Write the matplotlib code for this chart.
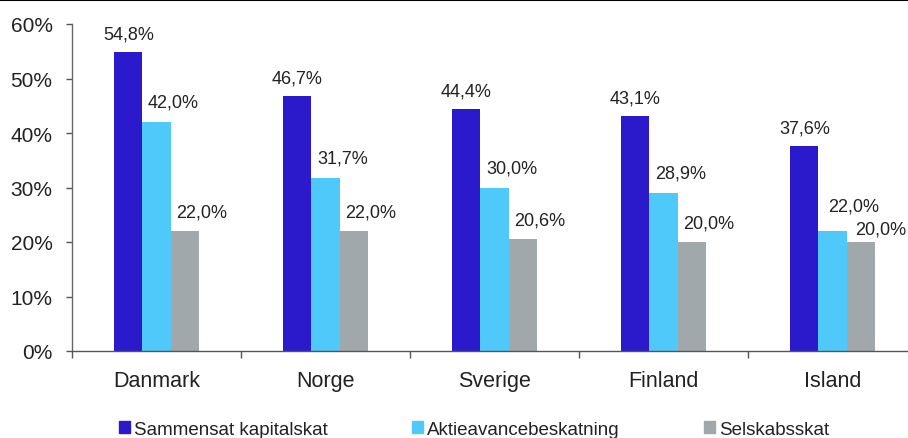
import matplotlib
matplotlib.use("Agg")
import matplotlib.pyplot as plt
import numpy as np
from matplotlib.lines import Line2D
from matplotlib.patches import Rectangle

plt.rcParams["font.family"] = ["Liberation Sans", "DejaVu Sans"]

countries = ["Danmark", "Norge", "Sverige", "Finland", "Island"]
series_names = ["Sammensat kapitalskat", "Aktieavancebeskatning", "Selskabsskat"]
kapitalskat = [54.8, 46.7, 44.4, 43.1, 37.6]
aktieavance = [42.0, 31.7, 30.0, 28.9, 22.0]
selskabsskat = [22.0, 22.0, 20.6, 20.0, 20.0]
y_ticks = [0, 10, 20, 30, 40, 50, 60]

colors = ["#2b1acb", "#4fc9fa", "#a1a8ab"]
text_color = "#222222"

# label offsets in pixels (dx, dy) per series; Island gets nudged to avoid overlap
label_offsets = [(0, 18), (17, 20), (17, 19)]
label_overrides = {(4, 1): (21, 25), (4, 2): (20, 13)}

fig = plt.figure(figsize=(9.08, 4.39), dpi=100)
W, H = 908, 439
ax = fig.add_axes([72 / W, (H - 352) / H, 845 / W, 327 / H])

x = np.arange(len(countries))
width = 28 / 168.5
all_series = [kapitalskat, aktieavance, selskabsskat]

for i, (vals, color) in enumerate(zip(all_series, colors)):
    pos = x + (i - 1) * width
    ax.bar(pos, vals, width=width, color=color, linewidth=0)
    for j, (px, v) in enumerate(zip(pos, vals)):
        dx, dy = label_overrides.get((j, i), label_offsets[i])
        ax.annotate(f"{v:.1f}%".replace(".", ","), (px, v),
                    xytext=(dx, dy), textcoords="offset pixels",
                    ha="center", va="center", fontsize=13, color=text_color)

ax.set_xlim(-0.5, len(countries) - 0.5)
ax.set_ylim(0, 60)
ax.set_yticks(y_ticks)
ax.set_yticklabels([f"{t}%" for t in y_ticks])
ax.set_xticks(x)
ax.set_xticklabels(countries)
ax.set_xticks(np.arange(len(countries) + 1) - 0.5, minor=True)

ax.tick_params(axis="y", direction="out", length=4, width=1, color="#555555",
               pad=10, labelsize=15, labelcolor=text_color)
ax.tick_params(axis="x", which="major", length=0, pad=14, labelsize=15.5,
               labelcolor=text_color)
ax.tick_params(axis="x", which="minor", direction="out", length=5, width=1,
               color="#555555")

for side in ["top", "right"]:
    ax.spines[side].set_visible(False)
ax.spines["left"].set_color("#666666")
ax.spines["bottom"].set_color("#555555")
ax.spines["left"].set_linewidth(1)
ax.spines["bottom"].set_linewidth(1)

handles = [Rectangle((0, 0), 1, 1, color=c) for c in colors]
fig.legend(handles, series_names, loc="center", bbox_to_anchor=(0.522, 0.02),
           ncol=3, frameon=False, fontsize=13.5, handlelength=0.6,
           handleheight=0.6, handletextpad=0.2, columnspacing=4.5,
           labelcolor=text_color)

# rule across the top edge
fig.add_artist(Line2D([0, 1], [1 - 1 / H, 1 - 1 / H], color="black",
                      linewidth=1.5, transform=fig.transFigure))

fig.savefig("out.png", dpi=100)
